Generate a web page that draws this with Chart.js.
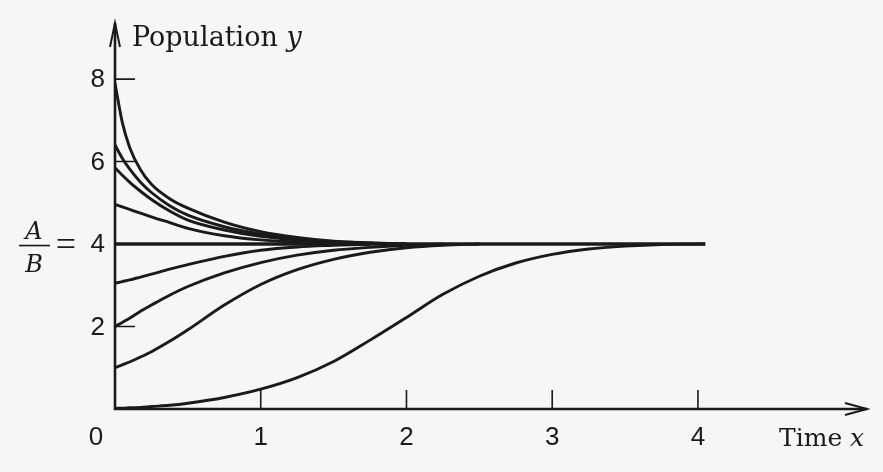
<!DOCTYPE html>
<html>
<head>
<meta charset="utf-8">
<title>Logistic growth</title>
<script src="https://cdn.jsdelivr.net/npm/chart.js@4/dist/chart.umd.min.js"></script>
<style>
  html, body { margin: 0; padding: 0; background: #f6f6f6; }
  canvas { display: block; }
</style>
</head>
<body>
<canvas id="popChart" width="883" height="472"></canvas>
<script>
// time values shared by every solution curve
const xs = [0, 0.05, 0.1, 0.175, 0.25, 0.375, 0.5, 0.75, 1, 1.25, 1.5, 1.75, 2, 2.25, 2.5, 2.75, 3, 3.25, 3.5, 3.75, 4.05];

// population for each starting value (curves stop once they reach A/B)
const from8 = [7.9, 6.95, 6.35, 5.8, 5.45, 5.1, 4.87, 4.53, 4.3, 4.16, 4.07, 4.03, 4.0];
const from64 = [6.4, 6.08, 5.82, 5.5, 5.25, 4.93, 4.7, 4.42, 4.24, 4.13, 4.06, 4.02, 4.0];
const from58 = [5.85, 5.67, 5.5, 5.28, 5.08, 4.8, 4.58, 4.34, 4.19, 4.1, 4.04, 4.01, 4.0];
const from5 = [4.96, 4.9, 4.84, 4.75, 4.66, 4.52, 4.38, 4.2, 4.1, 4.05, 4.02, 4.0];
const from3 = [3.05, 3.09, 3.13, 3.2, 3.27, 3.39, 3.5, 3.7, 3.85, 3.93, 3.97, 4.0];
const from2 = [2.0, 2.1, 2.2, 2.37, 2.52, 2.76, 2.97, 3.3, 3.55, 3.73, 3.85, 3.92, 3.97, 4.0];
const from1 = [1.0, 1.07, 1.14, 1.26, 1.39, 1.64, 1.92, 2.52, 3.02, 3.38, 3.63, 3.8, 3.91, 3.97, 4.0];
const from0 = [0.02, 0.02, 0.03, 0.04, 0.06, 0.09, 0.14, 0.28, 0.48, 0.76, 1.15, 1.67, 2.22, 2.78, 3.22, 3.54, 3.75, 3.88, 3.95, 3.99, 4.0];

// equilibrium line y = A/B
const equilibrium = 4;
const equilibriumEnd = 4.05;

// axis marks and labels
const xTickMarks = [1, 2, 3, 4];
const xTickLabels = ['0', '1', '2', '3', '4'];
const yTickMarks = [2, 6, 8];
const yTickLabels = ['2', '6', '8'];

const INK = '#1a1a1a';

function toPoints(ys) {
  return ys.map((y, i) => ({ x: xs[i], y: y }));
}

function curve(ys, width) {
  return {
    data: toPoints(ys),
    borderColor: INK,
    borderWidth: width || 2.9,
    pointRadius: 0,
    fill: false,
    cubicInterpolationMode: 'monotone'
  };
}

const datasets = [
  curve(from8), curve(from64), curve(from58), curve(from5),
  {
    data: [{ x: 0, y: equilibrium }, { x: equilibriumEnd, y: equilibrium }],
    borderColor: INK, borderWidth: 3.4, pointRadius: 0, fill: false
  },
  curve(from3), curve(from2), curve(from1), curve(from0)
];

// axes with arrows, inward ticks and book style labels
const axesPlugin = {
  id: 'bookAxes',
  beforeDraw(chart) {
    const c = chart.ctx;
    c.save();
    c.fillStyle = '#f6f6f6';
    c.fillRect(0, 0, chart.width, chart.height);
    c.restore();
  },
  afterDatasetsDraw(chart) {
    const c = chart.ctx;
    const xS = chart.scales.x;
    const yS = chart.scales.y;
    const area = chart.chartArea;
    const x0 = xS.getPixelForValue(0);
    const y0 = yS.getPixelForValue(0);

    c.save();
    c.strokeStyle = INK;
    c.fillStyle = INK;
    c.lineCap = 'butt';

    // axis lines
    c.lineWidth = 2.6;
    c.beginPath();
    c.moveTo(x0, y0 + 1);
    c.lineTo(x0, area.top);
    c.moveTo(x0 - 1, y0);
    c.lineTo(area.right, y0);
    c.stroke();

    // arrow heads
    c.lineWidth = 2;
    c.beginPath();
    c.moveTo(x0 - 5, area.top + 24);
    c.lineTo(x0, area.top);
    c.lineTo(x0 + 5, area.top + 24);
    c.moveTo(area.right - 22, y0 - 6);
    c.lineTo(area.right, y0);
    c.lineTo(area.right - 22, y0 + 6);
    c.stroke();

    // inward ticks
    c.lineWidth = 1.6;
    c.beginPath();
    xTickMarks.forEach(v => {
      const px = xS.getPixelForValue(v);
      c.moveTo(px, y0);
      c.lineTo(px, y0 - 19);
    });
    yTickMarks.forEach(v => {
      const py = yS.getPixelForValue(v);
      c.moveTo(x0, py);
      c.lineTo(x0 + 20, py);
    });
    c.stroke();

    // tick numbers
    c.font = '26px "Liberation Sans", Arial, sans-serif';
    c.textBaseline = 'middle';
    c.textAlign = 'center';
    xTickLabels.forEach((t, i) => {
      let px = xS.getPixelForValue(i);
      if (i === 0) px = x0 - 19;
      c.fillText(t, px, y0 + 29);
    });
    c.textAlign = 'right';
    yTickMarks.forEach((v, i) => {
      c.fillText(yTickLabels[i], x0 - 10, yS.getPixelForValue(v) + 1);
    });

    // A/B = 4
    const y4 = yS.getPixelForValue(equilibrium);
    c.fillText('4', x0 - 10, y4 + 1);
    c.textAlign = 'center';
    c.font = '36px "Liberation Serif", serif';
    c.fillText('=', 66, y4 + 3);
    c.textBaseline = 'alphabetic';
    c.font = 'italic 24px "DejaVu Serif", serif';
    c.fillText('A', 34, y4 - 5);
    c.fillText('B', 34, y4 + 28);
    c.lineWidth = 1.6;
    c.beginPath();
    c.moveTo(19, y4 + 1.5);
    c.lineTo(50, y4 + 1.5);
    c.stroke();

    // axis titles
    c.textAlign = 'left';
    c.font = '27px "DejaVu Serif", serif';
    c.fillText('Population ', 132, area.top + 23);
    let w = c.measureText('Population ').width;
    c.font = 'italic 27px "DejaVu Serif", serif';
    c.fillText('y', 132 + w, area.top + 23);

    c.font = '25px "DejaVu Serif", serif';
    c.fillText('Time ', 779, y0 + 37);
    w = c.measureText('Time ').width;
    c.font = 'italic 25px "DejaVu Serif", serif';
    c.fillText('x', 779 + w, y0 + 37);

    c.restore();
  }
};

const chart = new Chart(document.getElementById('popChart').getContext('2d'), {
  type: 'line',
  data: { datasets: datasets },
  options: {
    responsive: false,
    animation: false,
    layout: { padding: { left: 115, top: 23, right: 16, bottom: 63 } },
    plugins: { legend: { display: false }, tooltip: { enabled: false } },
    scales: {
      x: { type: 'linear', min: 0, max: 5.16, display: false },
      y: { type: 'linear', min: 0, max: 9.36, display: false }
    }
  },
  plugins: [axesPlugin]
});
</script>
</body>
</html>
